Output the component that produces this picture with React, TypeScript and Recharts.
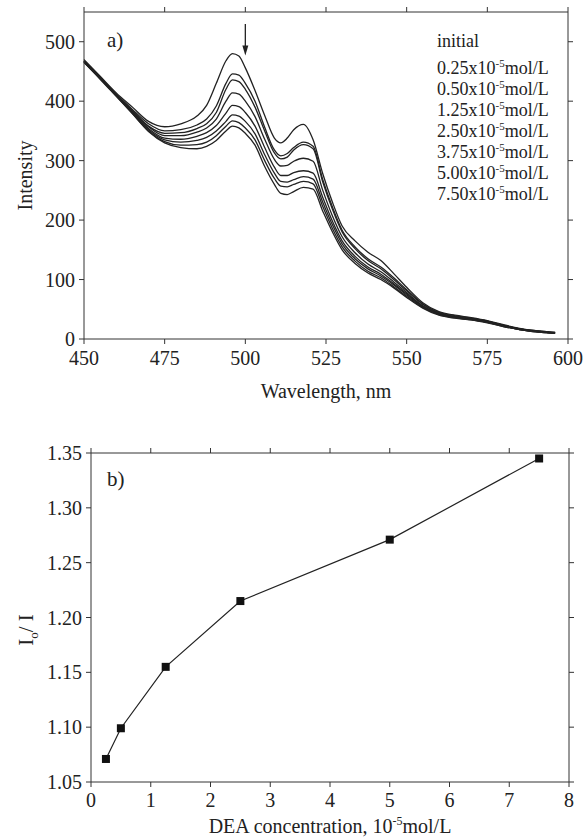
import React from 'react';
import { LineChart, Line, XAxis, YAxis, ReferenceLine, ReferenceDot } from 'recharts';

// panel a: emission spectra
const wavelengths = [450, 455, 460, 465, 470, 475, 480, 485, 488, 491, 494, 496, 498, 500, 503, 506, 509, 511, 513, 515, 518, 521, 524, 527, 530, 534, 538, 542, 546, 550, 555, 560, 565, 570, 575, 580, 585, 590, 596];
const initial = [470, 442, 414, 390, 366, 357, 362, 375, 393, 430, 468, 480, 476, 456, 418, 376, 338, 330, 338, 352, 361, 335, 278, 230, 190, 165, 146, 132, 110, 87, 61, 46, 40, 36, 31, 24, 18, 14, 11];
const c025 = [468, 440, 412, 386, 362, 350, 352, 360, 370, 392, 430, 446, 444, 430, 400, 356, 318, 308, 312, 322, 331, 324, 268, 222, 183, 155, 135, 121, 103, 83, 59, 45, 39, 35, 30, 23, 17, 14, 11];
const c050 = [467, 439, 411, 384, 358, 346, 347, 354, 362, 381, 420, 436, 433, 420, 390, 350, 313, 303, 306, 318, 327, 320, 264, 218, 180, 152, 132, 118, 100, 81, 58, 44, 38, 34, 30, 23, 17, 13, 10];
const c125 = [468, 440, 411, 383, 357, 342, 342, 348, 355, 370, 400, 414, 412, 400, 374, 336, 302, 291, 292, 299, 304, 299, 250, 207, 172, 145, 126, 113, 96, 78, 56, 43, 37, 34, 29, 22, 17, 13, 10];
const c250 = [466, 438, 409, 381, 354, 338, 336, 341, 347, 359, 380, 393, 391, 381, 358, 322, 289, 275, 275, 280, 283, 279, 238, 198, 165, 139, 121, 109, 93, 76, 55, 42, 37, 33, 29, 22, 16, 13, 10];
const c375 = [467, 439, 410, 381, 352, 335, 331, 334, 339, 350, 366, 377, 375, 366, 345, 310, 279, 265, 264, 268, 273, 269, 230, 192, 160, 135, 118, 106, 91, 74, 54, 42, 36, 33, 28, 22, 16, 13, 10];
const c500 = [465, 437, 408, 379, 350, 332, 326, 327, 331, 342, 358, 367, 364, 355, 335, 300, 270, 257, 256, 260, 265, 261, 223, 186, 155, 131, 114, 103, 88, 72, 53, 41, 36, 32, 28, 21, 16, 12, 10];
const c750 = [466, 438, 409, 379, 349, 330, 322, 320, 324, 334, 350, 358, 355, 346, 326, 290, 260, 245, 243, 248, 255, 252, 215, 180, 150, 127, 111, 100, 86, 70, 52, 40, 35, 32, 27, 21, 16, 12, 10];
const spectra = [initial, c025, c050, c125, c250, c375, c500, c750];
const legendLabels = ['initial', '0.25', '0.50', '1.25', '2.50', '3.75', '5.00', '7.50'];
const xTicksA = [450, 475, 500, 525, 550, 575, 600];
const yTicksA = [0, 100, 200, 300, 400, 500];

// panel b: Io/I vs DEA concentration
const concentration = [0.25, 0.5, 1.25, 2.5, 5, 7.5];
const ratio = [1.071, 1.099, 1.155, 1.215, 1.271, 1.345];
const xTicksB = [0, 1, 2, 3, 4, 5, 6, 7, 8];
const yTicksB = [1.05, 1.1, 1.15, 1.2, 1.25, 1.3, 1.35];

const serif = '"Liberation Serif", "Times New Roman", serif';
const ink = '#222';
const tickStyle = { fill: ink, fontSize: 20, fontFamily: serif };
const blank = () => '';

const spectraRows = wavelengths.map((w, i) => {
  const row: Record<string, number> = { w };
  spectra.forEach((s, k) => {
    row['s' + k] = s[i];
  });
  return row;
});

const ratioRows = concentration.map((c, i) => ({ c, r: ratio[i] }));

const Square = (props: any) => {
  const { cx, cy, index } = props;
  if (cx == null || cy == null) return null;
  return <rect key={index} x={cx - 4} y={cy - 4} width={8} height={8} fill="#111" />;
};

const ArrowHead = (props: any) => {
  const { cx, cy } = props;
  if (cx == null || cy == null) return null;
  return <polygon points={`${cx},${cy} ${cx - 3},${cy - 10} ${cx + 3},${cy - 10}`} fill={ink} />;
};

export default function App() {
  return (
    <div style={{ position: 'absolute', left: 0, top: 0, width: 587, height: 838, background: '#fff' }}>
      <LineChart width={587} height={420} data={spectraRows} margin={{ top: 11, right: 18, left: 0, bottom: 21 }}>
        <XAxis
          dataKey="w"
          type="number"
          domain={[450, 600]}
          ticks={xTicksA}
          height={60}
          tickSize={5}
          tickMargin={7}
          tick={tickStyle}
          stroke="#333"
          label={{ value: 'Wavelength, nm', position: 'insideBottom', offset: 1, fill: ink, fontSize: 20, fontFamily: serif }}
        />
        <XAxis
          xAxisId="top"
          orientation="top"
          dataKey="w"
          type="number"
          domain={[450, 600]}
          ticks={xTicksA}
          height={1}
          tickSize={5}
          tickFormatter={blank}
          stroke="#333"
          allowDataOverflow
        />
        <YAxis
          type="number"
          domain={[0, 550]}
          ticks={yTicksA}
          width={84}
          tickSize={5}
          tickMargin={4}
          tick={tickStyle}
          stroke="#333"
          label={{ value: 'Intensity', angle: -90, position: 'insideLeft', offset: 25, fill: ink, fontSize: 20, fontFamily: serif, style: { textAnchor: 'middle' } }}
        />
        <YAxis
          yAxisId="right"
          orientation="right"
          type="number"
          domain={[0, 550]}
          ticks={yTicksA}
          width={1}
          tickSize={5}
          tickFormatter={blank}
          stroke="#333"
          allowDataOverflow
        />
        {spectra.map((_, k) => (
          <Line
            key={k}
            dataKey={'s' + k}
            type="monotone"
            stroke={ink}
            strokeWidth={1.3}
            dot={false}
            isAnimationActive={false}
          />
        ))}
        {/* invisible series that binds the mirrored frame axes */}
        <Line
          xAxisId="top"
          yAxisId="right"
          dataKey="s0"
          stroke="none"
          dot={false}
          activeDot={false}
          legendType="none"
          isAnimationActive={false}
        />
        <ReferenceLine segment={[{ x: 500, y: 530 }, { x: 500, y: 487 }]} stroke={ink} strokeWidth={1.3} />
        <ReferenceDot x={500} y={477} r={4} shape={ArrowHead} />
      </LineChart>

      <LineChart width={587} height={418} data={ratioRows} margin={{ top: 32, right: 17, left: 0, bottom: 0 }}>
        <XAxis
          dataKey="c"
          type="number"
          domain={[0, 8]}
          ticks={xTicksB}
          height={56}
          tickSize={5}
          tickMargin={6}
          tick={tickStyle}
          stroke="#333"
        />
        <XAxis
          xAxisId="top"
          orientation="top"
          dataKey="c"
          type="number"
          domain={[0, 8]}
          ticks={xTicksB}
          height={1}
          tickSize={5}
          tickFormatter={blank}
          stroke="#333"
          allowDataOverflow
        />
        <YAxis
          type="number"
          domain={[1.05, 1.35]}
          ticks={yTicksB}
          width={91}
          tickSize={5}
          tickMargin={4}
          tick={tickStyle}
          tickFormatter={(v: number) => v.toFixed(2)}
          stroke="#333"
        />
        <YAxis
          yAxisId="right"
          orientation="right"
          type="number"
          domain={[1.05, 1.35]}
          ticks={yTicksB}
          width={1}
          tickSize={5}
          tickFormatter={blank}
          stroke="#333"
          allowDataOverflow
        />
        <Line dataKey="r" type="linear" stroke={ink} strokeWidth={1.2} dot={Square} isAnimationActive={false} />
        <Line
          xAxisId="top"
          yAxisId="right"
          dataKey="r"
          stroke="none"
          dot={false}
          activeDot={false}
          legendType="none"
          isAnimationActive={false}
        />
      </LineChart>

      <svg
        width={587}
        height={838}
        style={{ position: 'absolute', left: 0, top: 0, pointerEvents: 'none' }}
        fontFamily={serif}
        fill={ink}
      >
        <text x={107} y={47} fontSize={21}>a)</text>
        <text x={437} y={47} fontSize={18}>{legendLabels[0]}</text>
        {legendLabels.slice(1).map((lab, k) => (
          <text key={lab} x={437} y={73.5 + k * 21.1} fontSize={18}>
            {lab}x10
            <tspan dy={-7} fontSize={11}>-5</tspan>
            <tspan dy={7}>mol/L</tspan>
          </text>
        ))}
        <text x={107} y={486} fontSize={21}>b)</text>
        <text x={330} y={833} fontSize={20} textAnchor="middle">
          DEA concentration, 10
          <tspan dy={-8} fontSize={12}>-5</tspan>
          <tspan dy={8}>mol/L</tspan>
        </text>
        <text transform="translate(26,630) rotate(-90)" fontSize={21} textAnchor="middle" dy="0.35em">
          I<tspan dy={5} fontSize={13}>o</tspan>
          <tspan dy={-5}>/ I</tspan>
        </text>
      </svg>
    </div>
  );
}
